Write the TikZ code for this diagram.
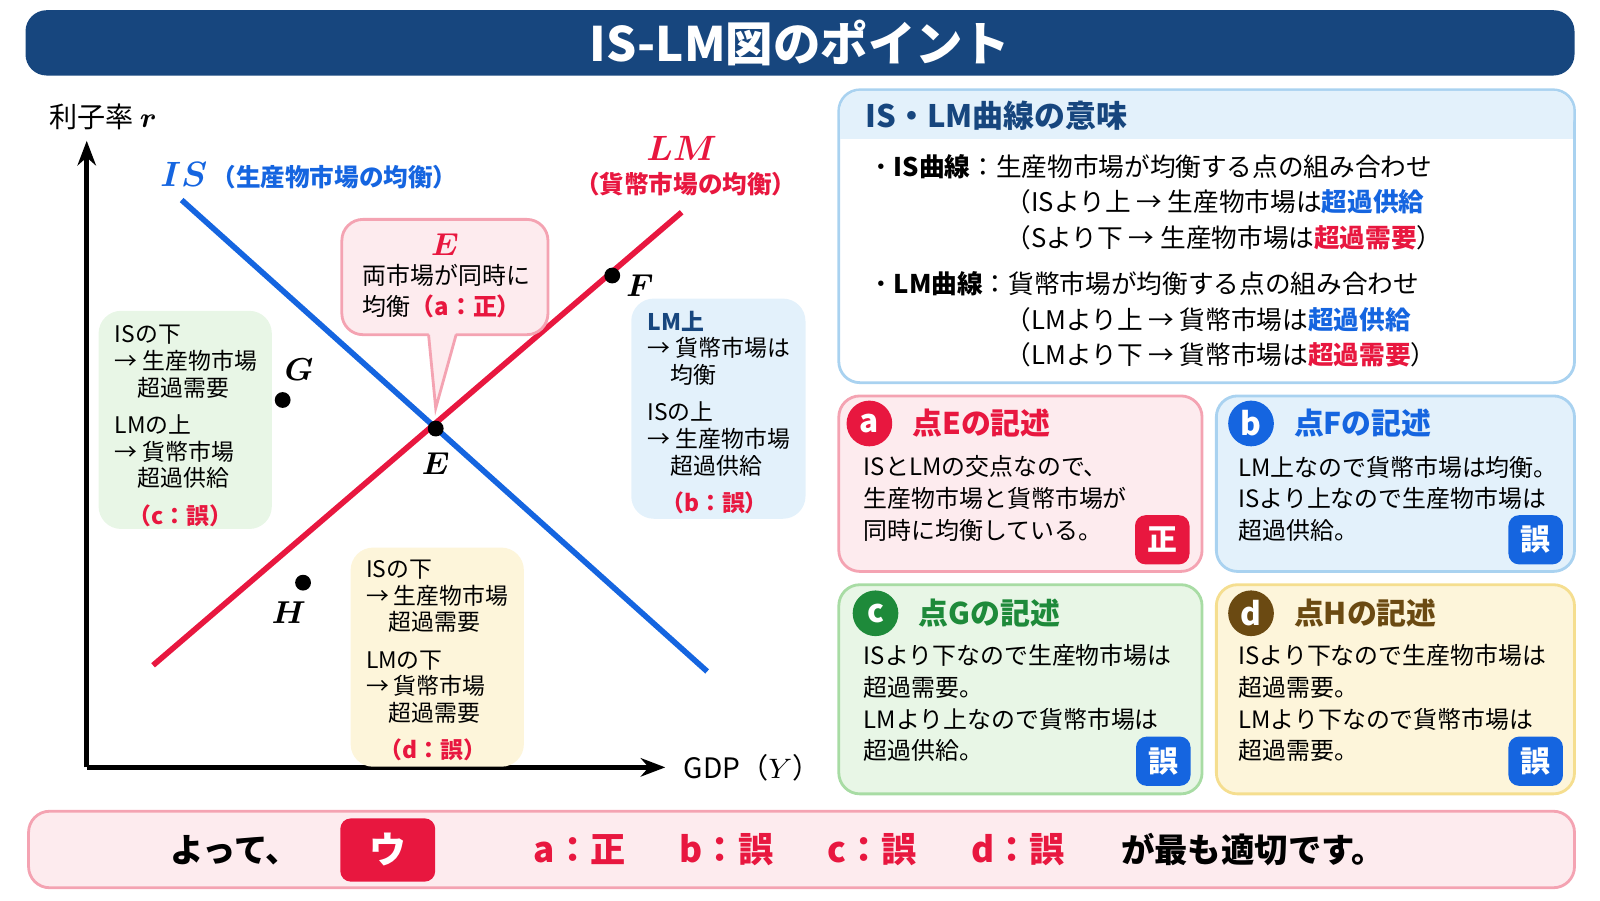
\documentclass[tikz,border=0pt]{standalone}
\usepackage{bm}
\usepackage{fontspec}
\setmainfont{Noto Sans CJK JP}
\usetikzlibrary{positioning,arrows.meta,calc}
\definecolor{navy}{HTML}{17467E}
\definecolor{isblue}{HTML}{1565E0}
\definecolor{lmred}{HTML}{E8173F}
\definecolor{pinkbg}{HTML}{FDEBEE}
\definecolor{pinkln}{HTML}{F4A3B2}
\definecolor{bluebg}{HTML}{E3F1FB}
\definecolor{blueln}{HTML}{A9D2F0}
\definecolor{greenbg}{HTML}{E8F6E6}
\definecolor{greenln}{HTML}{A8DCA4}
\definecolor{yelbg}{HTML}{FDF5DA}
\definecolor{yelln}{HTML}{F5DE8F}
\definecolor{dgreen}{HTML}{1E8A3A}
\definecolor{brown}{HTML}{6B4A12}
\newcommand{\rd}[1]{\textcolor{lmred}{\textbf{#1}}}
\newcommand{\bl}[1]{\textcolor{isblue}{\textbf{#1}}}
\tikzset{
  panel/.style={rounded corners=6pt,line width=0.8pt},
  boxtxt/.style={anchor=north west,inner sep=0pt,align=left,font=\fontsize{6.5}{7.6}\selectfont},
  stxt/.style={anchor=north west,inner sep=0pt,align=left,font=\fontsize{6.8}{9}\selectfont},
  rtxt/.style={anchor=west,inner sep=0pt,font=\fontsize{7.3}{9}\selectfont},
  dot/.style={circle,fill=black,inner sep=0pt,minimum size=4.5pt},
  ptlabel/.style={font=\fontsize{9}{10}\selectfont},
  badge/.style={circle,fill=#1,text=white,inner sep=0pt,minimum size=13pt,font=\bfseries\fontsize{9}{10}\selectfont},
  stamp/.style={fill=#1,text=white,rounded corners=3pt,inner sep=0pt,minimum width=15.5pt,minimum height=14pt,font=\bfseries\fontsize{8.5}{10}\selectfont},
  curve/.style={line width=1.6pt}
}
\begin{document}
\begin{tikzpicture}[x=0.10204mm,y=-0.10204mm]
\useasboundingbox (0,0) rectangle (1568,882);
% title
\fill[navy,rounded corners=6pt] (25,10) rectangle (1543,74);
\node[text=white,font=\bfseries\fontsize{13.5}{15}\selectfont] (title) at (784,42) {IS-LM図のポイント};
% axes
\coordinate (O) at (85,752);
\coordinate (ytop) at (85,138);
\coordinate (xend) at (652,752);
\draw[line width=1.3pt,-{Stealth[length=7pt]}] (O) -- (ytop);
\draw[line width=1.3pt,-{Stealth[length=7pt]}] (O) -- (xend);
\node[anchor=west,font=\fontsize{8}{9}\selectfont] (rlab) at (36,115) {利子率 $\bm{r}$};
\node[anchor=west,font=\fontsize{8}{9}\selectfont] (ylab) at (658,752) {GDP（$Y$）};
% curves
\coordinate (IS1) at (178,196); \coordinate (IS2) at (693,658);
\coordinate (LM1) at (150,652); \coordinate (LM2) at (668,208);
\draw[curve,isblue] (IS1) -- (IS2);
\draw[curve,lmred] (LM1) -- (LM2);
\node[anchor=west,text=isblue,font=\bfseries\fontsize{7}{8}\selectfont] (islab) at (145,172) {{\fontsize{10}{11}\selectfont$\bm{IS}$}\,（生産物市場の均衡）};
\node[text=lmred,font=\fontsize{10}{11}\selectfont] (lmlab) at (668,145) {$\bm{LM}$};
\node[text=lmred,font=\bfseries\fontsize{7}{8}\selectfont] (lmsub) at (672,180) {（貨幣市場の均衡）};
% callout for E
\draw[panel,fill=pinkbg,draw=pinkln] (335,215) rectangle (537,328);
\fill[pinkbg] (420,325) -- (427,400) -- (447,325) -- cycle;
\draw[pinkln,line width=0.8pt] (420,328) -- (427,400) -- (447,328);
\node[text=lmred,ptlabel] (Etop) at (436,240) {$\bm{E}$};
\node[stxt] (Etxt) at (355,258) {両市場が同時に\\均衡\rd{（a：正）}};
% points
\node[dot] (E) at (427,420) {};
\node[ptlabel,below=1pt of E] (Elab) {$\bm{E}$};
\node[dot] (F) at (600,270) {};
\node[ptlabel] (Flab) at (627,280) {$\bm{F}$};
\node[dot] (G) at (277,392) {};
\node[ptlabel] (Glab) at (293,362) {$\bm{G}$};
\node[dot] (H) at (297,571) {};
\node[ptlabel] (Hlab) at (283,600) {$\bm{H}$};
% region boxes
\draw[panel,fill=greenbg,draw=greenbg] (98,306) rectangle (265,517);
\node[boxtxt] (gtxt) at (112,318) {ISの下\\→ 生産物市場\\\quad 超過需要\\[3pt]LMの上\\→ 貨幣市場\\\quad 超過供給\\[3pt]\hspace{0.6em}\rd{（c：誤）}};
\draw[panel,fill=bluebg,draw=bluebg] (620,294) rectangle (788,507);
\node[boxtxt] (btxt) at (634,304) {\textcolor{navy}{\textbf{LM上}}\\→ 貨幣市場は\\\quad 均衡\\[3pt]ISの上\\→ 生産物市場\\\quad 超過供給\\[3pt]\hspace{0.6em}\rd{（b：誤）}};
\draw[panel,fill=yelbg,draw=yelbg] (345,538) rectangle (512,750);
\node[boxtxt] (ytxt) at (358,548) {ISの下\\→ 生産物市場\\\quad 超過需要\\[3pt]LMの下\\→ 貨幣市場\\\quad 超過需要\\[3pt]\hspace{0.6em}\rd{（d：誤）}};
% meaning panel
\draw[panel,fill=white,draw=blueln] (822,88) rectangle (1543,375);
\fill[bluebg,rounded corners=6pt] (823,89) rectangle (1542,136);
\fill[bluebg] (823,115) rectangle (1542,136);
\node[anchor=west,text=navy,font=\bfseries\fontsize{8.8}{10}\selectfont] (mhead) at (836,113) {IS・LM曲線の意味};
\node[rtxt] (m1) at (850,163) {・\textbf{IS曲線}：生産物市場が均衡する点の組み合わせ};
\node[rtxt] (m2) at (985,198) {（ISより上 → 生産物市場は\bl{超過供給}};
\node[rtxt] (m3) at (985,233) {（Sより下 → 生産物市場は\rd{超過需要}）};
\node[rtxt] (m4) at (850,278) {・\textbf{LM曲線}：貨幣市場が均衡する点の組み合わせ};
\node[rtxt] (m5) at (985,313) {（LMより上 → 貨幣市場は\bl{超過供給}};
\node[rtxt] (m6) at (985,348) {（LMより下 → 貨幣市場は\rd{超過需要}）};
% statement a
\draw[panel,fill=pinkbg,draw=pinkln] (822,388) rectangle (1178,560);
\node[badge=lmred] (ba) at (852,415) {a};
\node[anchor=west,text=lmred,font=\bfseries\fontsize{8.5}{10}\selectfont,right=2pt of ba] (ha) {点Eの記述};
\node[stxt] (ta) at (846,446) {ISとLMの交点なので、\\生産物市場と貨幣市場が\\同時に均衡している。};
\node[stamp=lmred] (sa) at (1139,529) {正};
% statement b
\draw[panel,fill=bluebg,draw=blueln] (1192,388) rectangle (1543,560);
\node[badge=isblue] (bb) at (1226,415) {b};
\node[anchor=west,text=isblue,font=\bfseries\fontsize{8.5}{10}\selectfont,right=2pt of bb] (hb) {点Fの記述};
\node[stxt] (tb) at (1213,446) {LM上なので貨幣市場は均衡。\\ISより上なので生産物市場は\\超過供給。};
\node[stamp=isblue] (sb) at (1505,529) {誤};
% statement c
\draw[panel,fill=greenbg,draw=greenln] (822,573) rectangle (1178,778);
\node[badge=dgreen] (bc) at (858,601) {c};
\node[anchor=west,text=dgreen,font=\bfseries\fontsize{8.5}{10}\selectfont,right=2pt of bc] (hc) {点Gの記述};
\node[stxt] (tc) at (846,631) {ISより下なので生産物市場は\\超過需要。\\LMより上なので貨幣市場は\\超過供給。};
\node[stamp=isblue] (sc) at (1140,746) {誤};
% statement d
\draw[panel,fill=yelbg,draw=yelln] (1192,573) rectangle (1543,778);
\node[badge=brown] (bd) at (1226,601) {d};
\node[anchor=west,text=brown,font=\bfseries\fontsize{8.5}{10}\selectfont,right=2pt of bd] (hd) {点Hの記述};
\node[stxt] (td) at (1213,631) {ISより下なので生産物市場は\\超過需要。\\LMより下なので貨幣市場は\\超過需要。};
\node[stamp=isblue] (sd) at (1505,746) {誤};
% conclusion
\draw[panel,fill=pinkbg,draw=pinkln] (28,795) rectangle (1543,870);
\node[font=\bfseries\fontsize{9.5}{11}\selectfont] (c0) at (230,833) {よって、};
\node[stamp=lmred,minimum width=27pt,minimum height=18pt,font=\bfseries\fontsize{10.5}{12}\selectfont] (ans) at (380,833) {ウ};
\foreach \x/\t in {568/a：正,712/b：誤,855/c：誤,998/d：誤}
  \node[text=lmred,font=\bfseries\fontsize{10}{11}\selectfont] at (\x,833) {\t};
\node[font=\bfseries\fontsize{9.5}{11}\selectfont] (c1) at (1228,833) {が最も適切です。};
\end{tikzpicture}
\end{document}
